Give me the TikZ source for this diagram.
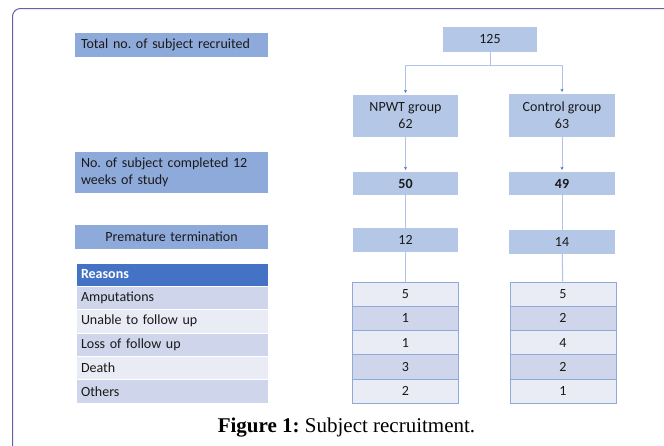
\documentclass[tikz,border=0pt]{standalone}
\usepackage{fontspec}
\setmainfont{Liberation Serif}
\newfontfamily\calfont{Carlito}
\usetikzlibrary{positioning,arrows.meta}
\frenchspacing

\definecolor{labelblue}{HTML}{8EAADB}
\definecolor{numblue}{HTML}{B4C7E7}
\definecolor{headblue}{HTML}{4472C4}
\definecolor{rowdark}{HTML}{CFD5EA}
\definecolor{rowlite}{HTML}{E9EBF5}
\definecolor{linkblue}{HTML}{B0C4E8}
\definecolor{framecol}{HTML}{6A5FA6}
\definecolor{txt}{HTML}{1A1A1A}

\tikzset{
  box/.style={fill=numblue,text=txt,inner sep=2pt,minimum width=105pt,minimum height=24pt,
    font=\calfont\fontsize{14}{17}\selectfont,align=center},
  label/.style={box,fill=labelblue,minimum width=193pt,text width=181pt,align=left},
  cell/.style={draw=labelblue,line width=0.8pt,text=txt,minimum width=106pt,minimum height=24.2pt,
    inner sep=0pt,font=\calfont\fontsize{14}{17}\selectfont},
  reason/.style={draw=white,line width=0.6pt,text=txt,minimum width=192pt,minimum height=23.4pt,
    text width=182pt,align=left,inner sep=0pt,font=\calfont\fontsize{14}{17}\selectfont},
  dark/.style={fill=rowdark},
  lite/.style={fill=rowlite},
  link/.style={draw=linkblue,line width=1pt},
  tip/.style={link,-{Stealth[length=3pt,width=3pt,color=headblue]},shorten >=2pt}
}

\begin{document}
\begin{tikzpicture}[x=1pt,y=-1pt]
  \useasboundingbox (0,0) rectangle (664,445);
  \clip (0,0) rectangle (664,445);

  % frame
  \draw[framecol,line width=1pt,rounded corners=8pt] (12.5,460) -- (12.5,8.5) -- (680,8.5);

  % left column
  \node[label] (total) at (171.5,45) {Total no. of subject recruited};
  \node[label,minimum height=41pt] (done) at (171.5,172.5) {No. of subject completed 12\\weeks of study};
  \node[label,align=center] (prem) at (171.5,236.5) {Premature termination};
  \node[reason,fill=headblue,text=white,minimum height=23pt] (head) at (172,274.5)
    {\bfseries Reasons};
  \foreach \t/\s [count=\i] in {Amputations/dark,Unable to follow up/lite,Loss of follow up/dark,
      Death/lite,Others/dark}
    \node[reason,\s] (why\i) at (172,{274.3+23.4*\i}) {\t};

  % flow
  \node[box,minimum width=94pt,minimum height=25pt] (all) at (490,39.5) {125};
  \node[box,minimum height=42pt] (npwt) at (405.5,116) {NPWT group\\62};
  \node[box,minimum width=106pt,minimum height=43pt] (ctrl) at (562,115.5) {Control group\\63};
  \node[box,minimum height=23pt] (n50) at (405.5,183.5) {\bfseries 50};
  \node[box,minimum width=106pt,minimum height=23pt] (n49) at (562,183.5) {\bfseries 49};
  \node[box] (n12) at (405.5,240) {12};
  \node[box,minimum width=106pt] (n14) at (562,242) {14};

  \foreach \v/\s [count=\i] in {5/lite,1/dark,1/lite,3/dark,2/lite}
    \node[cell,\s] (np\i) at (405.5,{270+24.2*\i}) {\v};
  \foreach \v/\s [count=\i] in {5/lite,2/dark,4/lite,2/dark,1/lite}
    \node[cell,\s] (cg\i) at (563,{270+24.2*\i}) {\v};

  \coordinate (split) at (490,65);
  \draw[link] (all) -- (split);
  \draw[tip] (split) -| (npwt);
  \draw[tip] (split) -| (ctrl);
  \draw[tip] (npwt) -- (n50);
  \draw[tip] (ctrl) -- (n49);
  \draw[link] (n50) -- (n12);
  \draw[link] (n49) -- (n14);
  \draw[link] (n12) -- (np1);
  \draw[link] (n14) -- (cg1);

  \node[anchor=base,inner sep=0pt,font=\fontsize{21}{24}\selectfont] (cap) at (346.5,432)
    {\textbf{Figure 1:} Subject recruitment.};
\end{tikzpicture}
\end{document}
